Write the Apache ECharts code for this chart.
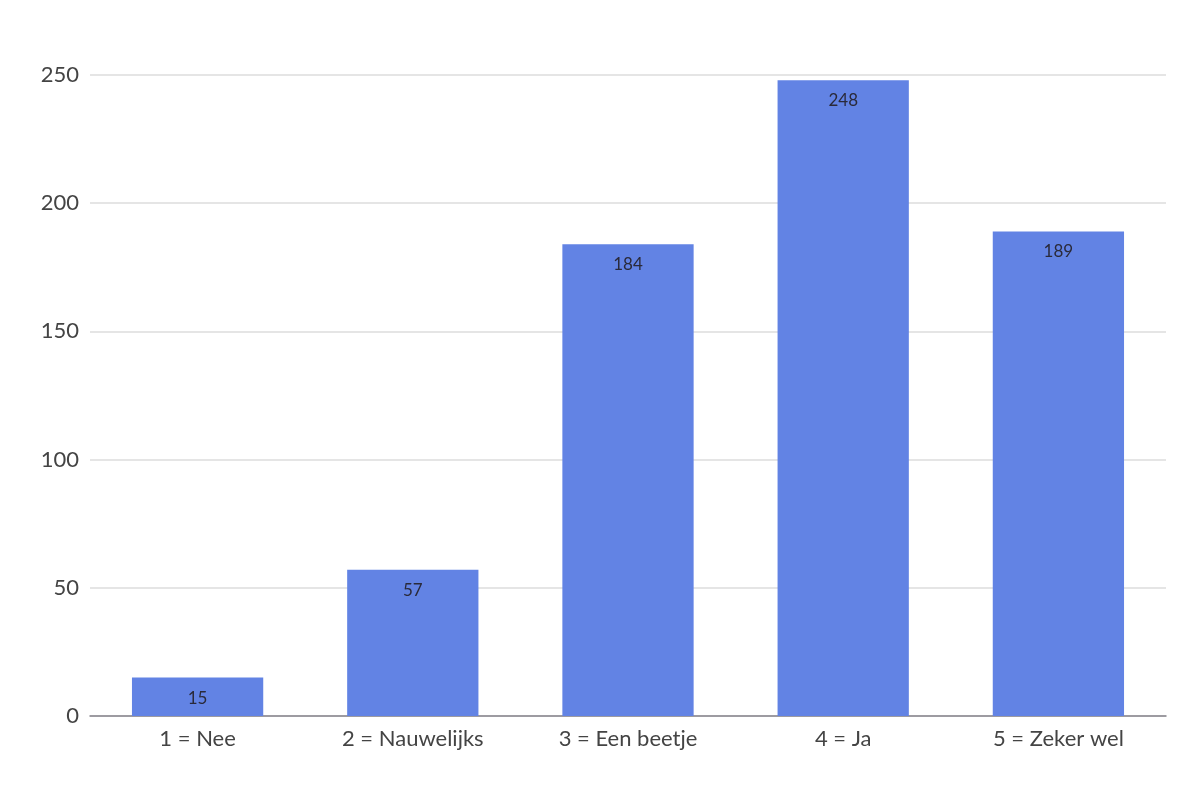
<!DOCTYPE html>
<html>
<head>
<meta charset="utf-8">
<script src="https://cdn.jsdelivr.net/npm/echarts@6/dist/echarts.min.js"></script>
<style>html,body{margin:0;padding:0;background:#fff}#c{width:1200px;height:800px}</style>
</head>
<body>
<div id="c"></div>
<script>
const categories = ['1 = Nee', '2 = Nauwelijks', '3 = Een beetje', '4 = Ja', '5 = Zeker wel'];
const values = [15, 57, 184, 248, 189];
const yTicks = { min: 0, max: 250, interval: 50 };

const chart = echarts.init(document.getElementById('c'), null, { renderer: 'canvas' });
chart.setOption({
  animation: false,
  grid: { left: 90, right: 34, top: 75, bottom: 84, containLabel: false },
  xAxis: {
    type: 'category',
    data: categories,
    axisTick: { show: false },
    axisLine: { lineStyle: { color: '#85838a', width: 1.5 } },
    axisLabel: { color: '#444', fontSize: 22, fontFamily: 'Lato', margin: 12 }
  },
  yAxis: {
    type: 'value',
    min: yTicks.min, max: yTicks.max, interval: yTicks.interval,
    axisLine: { show: false },
    axisTick: { show: false },
    splitLine: { lineStyle: { color: '#dcdcdc', width: 1.5 } },
    axisLabel: { color: '#444', fontSize: 22, fontFamily: 'Lato', margin: 11 }
  },
  series: [{
    type: 'bar',
    data: values,
    barWidth: '61%',
    itemStyle: { color: '#6283e4' },
    label: {
      show: true, position: 'insideTop', distance: 12,
      color: '#2a2a3a', fontSize: 17, fontFamily: 'Lato'
    }
  }]
});
</script>
</body>
</html>
